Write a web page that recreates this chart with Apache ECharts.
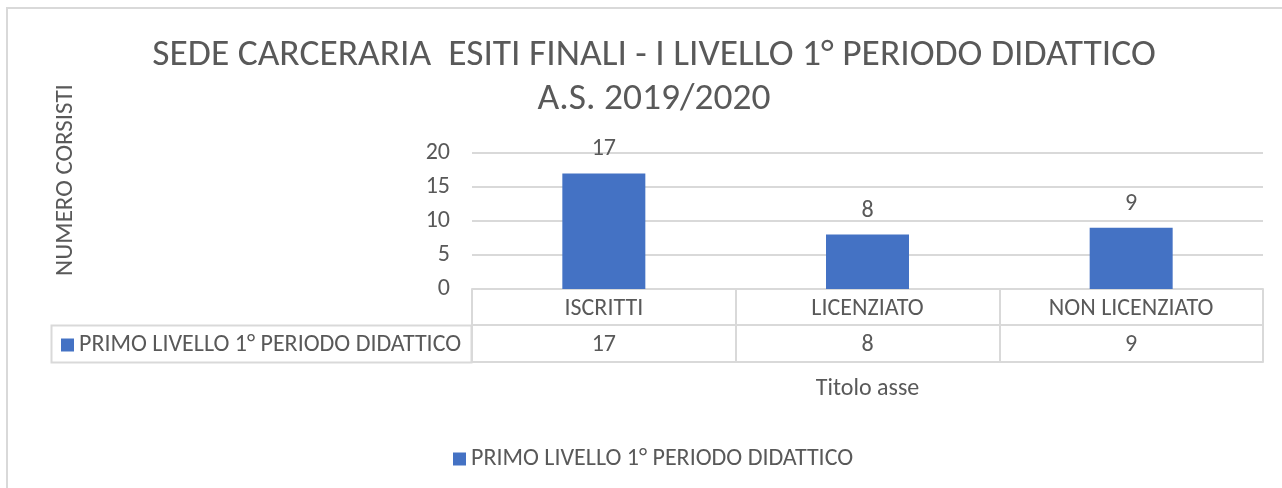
<!DOCTYPE html>
<html lang="it">

<head>
    <meta charset="UTF-8">
    <title>Esiti finali</title>
    <script src="https://cdn.jsdelivr.net/npm/echarts@6/dist/echarts.min.js"></script>
</head>

<body>
    <div id="myCharts" style="width: 1282px;height:488px;"></div>
    <div id="cornice"></div>

    <script type="text/javascript">
        var categorie = ['ISCRITTI', 'LICENZIATO', 'NON LICENZIATO']
        var serieNome = 'PRIMO LIVELLO 1° PERIODO DIDATTICO'
        var valori = [17, 8, 9]
        var tickY = [0, 5, 10, 15, 20]

        var grigio = '#595959'
        var bordo = '#d9d9d9'
        var font = 'Carlito, Lato, sans-serif'

        var myChart = echarts.init(document.getElementById('myCharts'))

        var option = {
            backgroundColor: '#fff',
            textStyle: {
                fontFamily: font
            },
            title: {
                text: 'SEDE CARCERARIA  ESITI FINALI - I LIVELLO 1° PERIODO DIDATTICO\nA.S. 2019/2020',
                left: 649,
                top: 29,
                textAlign: 'center',
                textStyle: {
                    color: grigio,
                    fontFamily: font,
                    fontWeight: 'normal',
                    fontSize: 37.5,
                    lineHeight: 44
                }
            },
            legend: [
                {
                    // legenda dentro la tabella dati
                    data: [serieNome],
                    left: 56,
                    top: 328,
                    itemWidth: 13,
                    itemHeight: 13,
                    icon: 'rect',
                    textStyle: { color: grigio, fontSize: 24, fontFamily: font }
                },
                {
                    data: [serieNome],
                    left: 448,
                    top: 442,
                    itemWidth: 13,
                    itemHeight: 13,
                    icon: 'rect',
                    textStyle: { color: grigio, fontSize: 24, fontFamily: font }
                }
            ],
            graphic: [
                {
                    type: 'rect',
                    shape: { x: 51.5, y: 325.5, width: 420, height: 37 },
                    style: { fill: 'none', stroke: bordo, lineWidth: 2 },
                    z: 1
                },
                {
                    type: 'text',
                    x: 66,
                    y: 180,
                    rotation: Math.PI / 2,
                    style: {
                        text: 'NUMERO CORSISTI',
                        fill: grigio,
                        font: '25px ' + font,
                        align: 'center',
                        verticalAlign: 'middle'
                    }
                }
            ],
            grid: {
                left: 472,
                right: 19,
                top: 153,
                bottom: 199
            },
            xAxis: [
                {
                    type: 'category',
                    data: categorie,
                    axisLine: { show: true, lineStyle: { color: bordo, width: 2 } },
                    axisTick: {
                        show: true,
                        length: 73,
                        interval: 0,
                        lineStyle: { color: bordo, width: 2 }
                    },
                    axisLabel: { color: grigio, fontSize: 24, margin: 8, interval: 0 }
                },
                {
                    // riga dei valori della tabella
                    type: 'category',
                    position: 'bottom',
                    offset: 36,
                    data: valori.map(String),
                    axisLine: { show: true, lineStyle: { color: bordo, width: 2 } },
                    axisTick: { show: false },
                    axisLabel: { color: grigio, fontSize: 24, margin: 8, interval: 0 }
                },
                {
                    type: 'category',
                    position: 'bottom',
                    offset: 73,
                    data: categorie,
                    axisLine: { show: true, lineStyle: { color: bordo, width: 2 } },
                    axisTick: { show: false },
                    axisLabel: { show: false },
                    name: 'Titolo asse',
                    nameLocation: 'middle',
                    nameGap: 15,
                    nameTextStyle: { color: grigio, fontSize: 24, fontFamily: font }
                }
            ],
            yAxis: {
                type: 'value',
                min: tickY[0],
                max: tickY[tickY.length - 1],
                interval: 5,
                axisLine: { show: false },
                axisTick: { show: false },
                splitLine: { lineStyle: { color: bordo, width: 2 } },
                axisLabel: { color: grigio, fontSize: 24, margin: 22 }
            },
            series: [
                {
                    name: serieNome,
                    type: 'bar',
                    xAxisIndex: 0,
                    barWidth: 83,
                    data: valori,
                    itemStyle: { color: '#4472C4' },
                    label: {
                        show: true,
                        position: 'top',
                        distance: 12,
                        color: grigio,
                        fontSize: 24,
                        fontFamily: font
                    }
                }
            ]
        }

        myChart.setOption(option)
    </script>
</body>

</html>

<style>
    body {
        margin: 0;
        position: relative;
    }

    #cornice {
        position: absolute;
        left: 6px;
        top: 7px;
        width: 1290px;
        height: 500px;
        border-left: 2px solid #d9d9d9;
        border-top: 2px solid #d9d9d9;
        pointer-events: none;
    }
</style>
